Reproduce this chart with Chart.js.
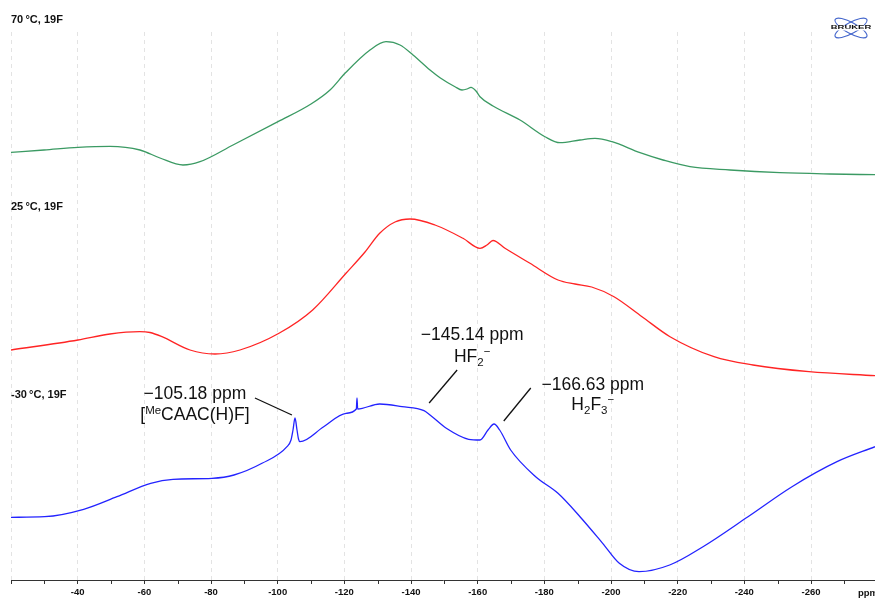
<!DOCTYPE html>
<html><head><meta charset="utf-8">
<script src="https://cdn.jsdelivr.net/npm/chart.js@4/dist/chart.umd.min.js"></script>
<style>html,body{margin:0;padding:0;background:#fff;overflow:hidden}#wrap{width:875px;height:606px}</style>
</head><body><div id="wrap"><canvas id="c" width="875" height="606"></canvas></div>
<script>
// ---- data (chemical shift in ppm, intensity in arbitrary units) ----
const spectrumLabels = ['70\u2009\u00B0C, 19F', '25\u2009\u00B0C, 19F', '-30\u2009\u00B0C, 19F'];
const stackOffsets = [405, 204, 62];

const ppm70 = [-20,-29.9,-40.1,-49.7,-58.7,-64.7,-71.6,-76.7,-86.6,-100.1,-110,-115.7,-120.2,-127.7,-132.5,-136.7,-140.6,-145.7,-148.7,-153.2,-155.3,-156.8,-158,-159.5,-160.7,-164.6,-172.7,-180.2,-184.7,-190.7,-195.2,-200.3,-208.7,-215.6,-223.7,-235.7,-250.7,-265.7,-279.2];
const int70 = [22.7,25,27.7,28.7,25,17,10,13.3,30,53.3,71,85,101.7,125,133.3,130,120,105,97.3,88.3,85,86,87.7,84,78.3,69,55,38.3,32.3,35,36.7,33.3,22.3,15,8.3,5,2.3,1,0.3];

const ppm25 = [-20,-40.1,-49.7,-58.6,-61.7,-65.3,-73.7,-81.2,-88.7,-100.4,-110.5,-120.5,-126.2,-130.6,-135.2,-139.7,-147.2,-155.6,-160.7,-162.8,-164.6,-168.2,-175.7,-184.1,-189.2,-194.2,-200.9,-209.3,-217.7,-230.9,-242.6,-259.4,-279.2];
const int25 = [26,36,42,44.3,43.5,39.3,26,22,26,42.7,66,102.7,124,142.7,154,157,151,137.7,127.7,131,135.5,127.7,112.7,96,92,89,79.3,59.3,39.3,19.3,11,4.3,0.3];

const ppmM30 = [-20,-30.1,-41.8,-51.8,-61.9,-68.6,-80.3,-86.9,-95.3,-102.8,-104,-104.6,-105.2,-105.8,-106.25,-106.7,-113.8,-120.5,-123.6,-123.8,-124,-130.6,-137.3,-143.9,-145.7,-150.6,-157.3,-160.7,-163.1,-164.9,-166.6,-169.9,-177.4,-184.1,-190.7,-197.5,-202.5,-208.4,-217.6,-227.6,-241.1,-254.3,-267.8,-279.2];
const intM30 = [0.7,1.3,8.7,21.3,34.7,38.7,39.7,43,54.7,71.3,78,88,100,88,79,76.3,91.3,104.7,109,120,109,114,111.3,107.3,103,89.7,78.7,78,88,94,88,68,41.3,24.7,1.3,-25.3,-45.3,-53.7,-47,-28.7,1.3,31.3,56.3,71.3];

const xMajorTicks = [-20,-40,-60,-80,-100,-120,-140,-160,-180,-200,-220,-240,-260];
const xMinorTicks = [-30,-50,-70,-90,-110,-130,-150,-170,-190,-210,-230,-250,-270];
const xTickLabels = ['', '-40','-60','-80','-100','-120','-140','-160','-180','-200','-220','-240','-260'];
const axisUnit = 'ppm';

const peakShifts = [-105.18, -145.14, -166.63];

// ---- build ----
function series(p, v, off){ return p.map((x,i)=>({x:x, y:v[i]+off})); }
const colors = ['#3b9a63', '#ff2424', '#2323ff'];

const FONT = '"Liberation Sans", Arial, Helvetica, sans-serif';

function drawRich(ctx, segs, cx, baseY, base){
  let w = 0;
  segs.forEach(s=>{ ctx.font = (s.size||base)+'px '+FONT; w += ctx.measureText(s.t).width; });
  let x = cx - w/2;
  ctx.textAlign='left'; ctx.textBaseline='alphabetic';
  segs.forEach(s=>{ ctx.font=(s.size||base)+'px '+FONT; ctx.fillText(s.t, x, baseY + (s.dy||0)); x += ctx.measureText(s.t).width; });
}

const overlay = {
  id:'overlay',
  afterDraw(chart){
    const ctx = chart.ctx, xs = chart.scales.x;
    ctx.save();
    // minor tick marks
    ctx.strokeStyle='#333'; ctx.lineWidth=1;
    xMinorTicks.forEach(v=>{
      const x = Math.round(xs.getPixelForValue(v))+0.5;
      ctx.beginPath(); ctx.moveTo(x, xs.top); ctx.lineTo(x, xs.top+4); ctx.stroke();
    });
    // spectrum labels
    ctx.fillStyle='#111'; ctx.font='bold 11px '+FONT; ctx.textAlign='left'; ctx.textBaseline='middle';
    const labY=[20,207,395];
    spectrumLabels.forEach((t,i)=>ctx.fillText(t, 11, labY[i]));
    // axis unit
    ctx.font='bold 9.5px '+FONT; ctx.textBaseline='middle';
    ctx.fillText(axisUnit, 858, 593);
    // annotations
    ctx.fillStyle='#111'; ctx.strokeStyle='#111'; ctx.lineWidth=1.3;
    const ann = [
      {dxText:-100, y1:399, y2:420, l:[-40,398,-3,415],
       line2:[{t:'['},{t:'Me',size:11.5,dy:-6},{t:'CAAC(H)F]'}]},
      {dxText:44, y1:340, y2:361.5, l:[29,370,1,403],
       line2:[{t:'HF'},{t:'2',size:11.5,dy:4},{t:'\u2212',size:11.5,dy:-7}]},
      {dxText:93, y1:390, y2:410, l:[31,388,4,421],
       line2:[{t:'H'},{t:'2',size:11.5,dy:4},{t:'F'},{t:'3',size:11.5,dy:4},{t:'\u2212',size:11.5,dy:-7}]}
    ];
    ann.forEach((a,i)=>{
      const px = xs.getPixelForValue(peakShifts[i]);
      drawRich(ctx,[{t:'\u2212'+Math.abs(peakShifts[i]).toFixed(2)+' ppm'}], px+a.dxText, a.y1, 17.5);
      drawRich(ctx,a.line2, px+a.dxText, a.y2, 17.5);
      ctx.beginPath(); ctx.moveTo(px+a.l[0], a.l[1]); ctx.lineTo(px+a.l[2], a.l[3]); ctx.stroke();
    });
    // Bruker logo
    const lx=851, ly=28;
    ctx.strokeStyle='#4466cc'; ctx.lineWidth=1.1;
    [-0.5,0.5].forEach(r=>{ ctx.beginPath(); ctx.ellipse(lx,ly,18,5.5,r,0,Math.PI*2); ctx.stroke(); });
    ctx.fillStyle='#fff'; ctx.fillRect(lx-21, ly-2.5, 42, 5);
    ctx.fillStyle='#111'; ctx.textAlign='center'; ctx.textBaseline='middle';
    ctx.save(); ctx.translate(lx, ly); ctx.scale(1,0.55); ctx.font='bold 9.5px '+FONT; ctx.fillText('BRUKER',0,0); ctx.restore();
    ctx.restore();
  }
};

new Chart(document.getElementById('c'), {
  type:'line',
  data:{ datasets:[
    {data:series(ppm70,int70,stackOffsets[0]), borderColor:colors[0]},
    {data:series(ppm25,int25,stackOffsets[1]), borderColor:colors[1]},
    {data:series(ppmM30,intM30,stackOffsets[2]), borderColor:colors[2]}
  ].map(d=>Object.assign(d,{borderWidth:1.3, pointRadius:0, fill:false, cubicInterpolationMode:'monotone'}))},
  options:{
    responsive:false, animation:false, devicePixelRatio:1,
    layout:{padding:{top:32,left:11,right:0,bottom:0}},
    plugins:{legend:{display:false}, tooltip:{enabled:false}},
    scales:{
      x:{type:'linear', reverse:true, min:-279.2, max:-20,
        afterBuildTicks:s=>{ s.ticks = xMajorTicks.map(v=>({value:v})); },
        afterFit:s=>{ s.height = 26; },
        grid:{color:'#e3e3e3', lineWidth:1, tickLength:4, tickColor:'#333', tickWidth:1},
        border:{display:true, color:'#333', width:1, dash:[4,4]},
        ticks:{autoSkip:false, maxRotation:0, padding:3, color:'#111', font:{family:FONT, size:9.5, weight:'bold'},
          callback:(v,i)=>xTickLabels[xMajorTicks.indexOf(v)]||''}
      },
      y:{display:false, min:0, max:548}
    }
  },
  plugins:[overlay]
});
</script></body></html>
